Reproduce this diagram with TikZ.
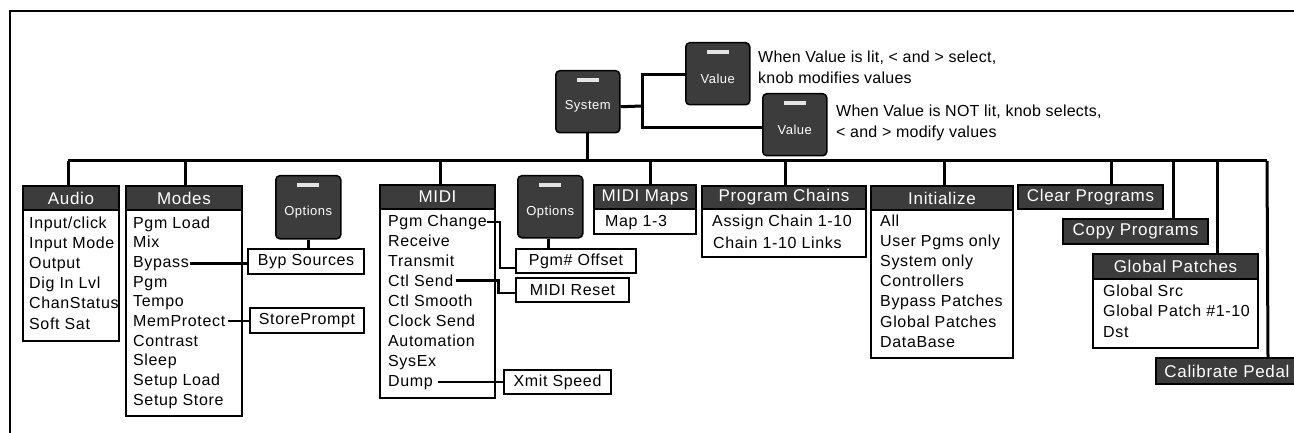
\documentclass[tikz,border=0pt]{standalone}
\usepackage{fontspec}
\setmainfont{Liberation Sans}
\newfontfamily\lsfont[LetterSpace=4]{Liberation Sans}
\newfontfamily\dsfont[LetterSpace=1.5]{Liberation Sans}
\newcommand\myitemfont{\lsfont\fontsize{16}{19}\selectfont}
\newcommand\myhdrfont{\lsfont\fontsize{17}{20}\selectfont}
\newcommand\mybtnfont{\lsfont\fontsize{13}{15}\selectfont}
\newcommand\mydescfont{\dsfont\fontsize{16}{20.5}\selectfont}
\definecolor{dark}{RGB}{60,60,60}
\definecolor{ledc}{RGB}{228,228,228}
\begin{document}
\begin{tikzpicture}[x=1pt,y=-1pt,
  conn/.style={line width=3pt},
  sconn/.style={line width=2.5pt},
  frame/.style={line width=2.5pt},
  hdr/.style={draw, line width=2pt, fill=dark, text=white, font=\myhdrfont, anchor=north west, inner sep=0pt},
  bodyb/.style={draw, line width=2pt, fill=white, anchor=north west, inner sep=0pt},
  item/.style={anchor=base west, inner sep=0pt, font=\myitemfont},
  sub/.style={draw, line width=2pt, fill=white, anchor=north west, inner sep=0pt, font=\myitemfont},
  btn/.style={draw, line width=1.5pt, fill=dark, rounded corners=4pt, anchor=north west, inner sep=0pt, minimum width=64pt, minimum height=62pt},
  btnl/.style={text=white, font=\mybtnfont, inner sep=0pt},
  led/.style={fill=ledc},
  desc/.style={anchor=west, align=left, inner sep=0pt, font=\mydescfont}
]
\useasboundingbox (0,0) rectangle (1294,433);
% frame
\draw[frame] (10,433) -- (10,11) -- (1294,11);

% top buttons
\node[btn] (sys) at (555,70) {};
\node[btnl] (syst) at ([yshift=-5pt]sys.center) {System};
\node[btn] (val1) at (685,42) {};
\node[btnl] (val1t) at ([yshift=-5pt]val1.center) {Value};
\node[btn] (val2) at (762,93) {};
\node[btnl] (val2t) at ([yshift=-5pt]val2.center) {Value};
\foreach \b in {sys,val1,val2}{
  \fill[led] ([xshift=-11pt,yshift=-8pt]\b.north) rectangle ([xshift=11pt,yshift=-12pt]\b.north);
}
\node[desc] (d1) at (758,67.5) {When Value is lit, < and > select,\\knob modifies values};
\node[desc] (d2) at (836,123) {When Value is NOT lit, knob selects,\\< and > modify values};
\coordinate (vj) at (642,106);
\draw[conn] ([yshift=-5pt]sys.east) -- (vj);
\draw[conn] ([yshift=-1pt]val1.west) -| (vj) |- ([yshift=-3pt]val2.west);

% bus
\coordinate (busL) at (68,161);
\coordinate (busR) at (1267,161);
\draw[conn] (busL) -- (busR);
\draw[conn] (sys.south) -- (sys.south |- busL);

% Audio
\node[hdr, minimum width=96pt, minimum height=24pt] (audioh) at (22,185) {Audio};
\node[bodyb, minimum width=96pt, minimum height=131pt] (audiob) at (22,209) {};
\foreach \t [count=\i] in {Input/click,Input Mode,Output,Dig In Lvl,ChanStatus,Soft Sat}
  \node[item] (audio-\i) at (29,{228+20.2*(\i-1)}) {\t};
\draw[conn] (audioh.north -| busL) -- (busL);

% Modes
\node[hdr, minimum width=116pt, minimum height=24pt] (modesh) at (125,185) {Modes};
\node[bodyb, minimum width=116pt, minimum height=206pt] (modesb) at (125,209) {};
\foreach \t [count=\i] in {Pgm Load,Mix,Bypass,Pgm,Tempo,MemProtect,Contrast,Sleep,Setup Load,Setup Store}
  \node[item] (modes-\i) at (133,{228+19.7*(\i-1)}) {\t};
\draw[conn] ([xshift=1pt]modesh.north) -- ([xshift=1pt]modesh.north |- busL);

% Options 1
\node[btn, minimum width=65pt, minimum height=63pt] (opt1) at (275,175) {};
\node[btnl] (opt1t) at ([yshift=-5pt]opt1.center) {Options};
\fill[led] ([xshift=-11pt,yshift=-8pt]opt1.north) rectangle ([xshift=11pt,yshift=-12pt]opt1.north);
\node[sub, minimum width=116pt, minimum height=25pt] (byp) at (247,248) {Byp Sources};
\node[sub, minimum width=114pt, minimum height=25pt] (store) at (249,307) {StorePrompt};
\draw[sconn] (opt1.south) -- (opt1.south |- byp.north);
\draw[sconn] ([xshift=1pt]modes-3.east) -- (modes-3.east -| byp.west);
\draw[sconn] ([xshift=3pt]modes-6.east) -- (modes-6.east -| store.west);

% MIDI
\node[hdr, minimum width=115pt, minimum height=24pt] (midih) at (379,184) {MIDI};
\node[bodyb, minimum width=115pt, minimum height=189pt] (midib) at (379,208) {};
\foreach \t [count=\i] in {Pgm Change,Receive,Transmit,Ctl Send,Ctl Smooth,Clock Send,Automation,SysEx,Dump}
  \node[item] (midi-\i) at (388,{226+20*(\i-1)}) {\t};
\draw[conn] ([xshift=3pt]midih.north) -- ([xshift=3pt]midih.north |- busL);

% Options 2
\node[btn, minimum width=65pt, minimum height=62pt] (opt2) at (517,175) {};
\node[btnl] (opt2t) at ([yshift=-5pt]opt2.center) {Options};
\fill[led] ([xshift=-11pt,yshift=-8pt]opt2.north) rectangle ([xshift=11pt,yshift=-12pt]opt2.north);
\node[sub, minimum width=120pt, minimum height=24pt] (pgmoff) at (515,248) {Pgm\# Offset};
\node[sub, minimum width=113pt, minimum height=24pt] (mreset) at (515,277) {MIDI Reset};
\node[sub, minimum width=107pt, minimum height=24pt] (xmit) at (503,369) {Xmit Speed};
\draw[sconn] ([xshift=-2pt]opt2.south) -- ([xshift=-2pt]opt2.south |- pgmoff.north);
\draw[sconn] (midi-1.east) -- ++(13,0) |- ([yshift=-7pt]pgmoff.west);
\draw[sconn] ([xshift=2pt]midi-4.east) -- ([xshift=45pt]midi-4.east) |- ([yshift=-3pt]mreset.west);
\draw[sconn] ([xshift=5pt]midi-9.east) -- (midi-9.east -| xmit.west);

% MIDI Maps
\node[hdr, minimum width=102pt, minimum height=24pt] (mapsh) at (593,184) {MIDI Maps};
\node[bodyb, minimum width=102pt, minimum height=25pt] (mapsb) at (593,208) {};
\node[item] (maps-1) at (605,226) {Map 1-3};
\draw[conn] ([xshift=5pt]mapsh.north) -- ([xshift=5pt]mapsh.north |- busL);

% Program Chains
\node[hdr, minimum width=164pt, minimum height=23pt] (chainh) at (701,185) {Program Chains};
\node[bodyb, minimum width=164pt, minimum height=48pt] (chainb) at (701,208) {};
\node[item] (chain-1) at (712,226) {Assign Chain 1-10};
\node[item] (chain-2) at (713,248) {Chain 1-10 Links};
\draw[conn] ([xshift=1pt]chainh.north) -- ([xshift=1pt]chainh.north |- busL);

% Initialize
\node[hdr, minimum width=142pt, minimum height=24pt] (inith) at (870,185) {Initialize};
\node[bodyb, minimum width=142pt, minimum height=148pt] (initb) at (870,209) {};
\foreach \t [count=\i] in {All,User Pgms only,System only,Controllers,Bypass Patches,Global Patches,DataBase}
  \node[item] (init-\i) at (880,{226+20.2*(\i-1)}) {\t};
\draw[conn] ([xshift=2pt]inith.north) -- ([xshift=2pt]inith.north |- busL);

% Clear / Copy Programs
\node[hdr, minimum width=145pt, minimum height=24pt] (clear) at (1017,184) {Clear Programs};
\draw[conn] ([xshift=21pt]clear.north) -- ([xshift=21pt]clear.north |- busL);
\node[hdr, minimum width=145pt, minimum height=25pt] (copy) at (1062,218) {Copy Programs};
\draw[conn] ([xshift=38pt]copy.north) -- ([xshift=38pt]copy.north |- busL);

% Global Patches
\node[hdr, minimum width=165pt, minimum height=25pt] (globh) at (1092,253) {Global Patches};
\node[bodyb, minimum width=165pt, minimum height=69pt] (globb) at (1092,278) {};
\foreach \t [count=\i] in {Global Src,Global Patch \#1-10,Dst}
  \node[item] (glob-\i) at (1103,{296+20.5*(\i-1)}) {\t};
\draw[conn] ([xshift=42pt]globh.north) -- ([xshift=42pt]globh.north |- busL);

% Calibrate Pedal
\node[hdr, minimum width=142pt, minimum height=26pt] (calib) at (1155,357) {Calibrate Pedal};
\draw[conn] ([xshift=41pt]calib.north) -- (busR);
\end{tikzpicture}
\end{document}
